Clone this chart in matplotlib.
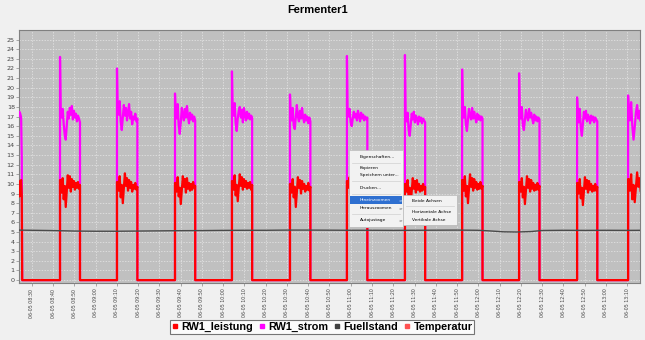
import matplotlib
matplotlib.use("Agg")
import matplotlib.pyplot as plt
from matplotlib.patches import Rectangle
from matplotlib.lines import Line2D
import numpy as np

# x axis in minutes after the first tick label
tick_labels = ["06-05 08:30", "06-05 08:40", "06-05 08:50", "06-05 09:00", "06-05 09:10",
               "06-05 09:20", "06-05 09:30", "06-05 09:40", "06-05 09:50", "06-05 10:00",
               "06-05 10:10", "06-05 10:20", "06-05 10:30", "06-05 10:40", "06-05 10:50",
               "06-05 11:00", "06-05 11:10", "06-05 11:20", "06-05 11:30", "06-05 11:40",
               "06-05 11:50", "06-05 12:00", "06-05 12:10", "06-05 12:20", "06-05 12:30",
               "06-05 12:40", "06-05 12:50", "06-05 13:00", "06-05 13:10"]

# pump cycles: switch on / switch off (minutes) and the start spike of the current
pulse_on = [13.2, 40.0, 67.3, 94.1, 121.4, 148.2, 175.5, 202.4, 229.2, 256.5, 280.5]
pulse_off = [22.6, 49.6, 76.8, 103.6, 131.0, 157.8, 185.0, 212.0, 238.8, 266.0, 287.0]
spike = [23.2, 22.0, 19.4, 21.7, 19.3, 23.3, 23.4, 21.9, 21.5, 19.0, 19.2]

# partial cycle at the left edge
first_t = [-6.3, -5.9, -5.5, -5.1, -4.8]
first_strom = [17.0, 17.5, 17.3, 16.9, 12.7]
first_leistung = [10.3, 8.7, 10.1, 10.4, 8.8]

strom_on = [
    [17.6, 16.9, 17.8, 16.2, 15.1, 14.6, 16.0, 17.5, 16.8, 17.9, 17.2, 18.1, 16.7, 17.6, 16.9, 17.3, 16.5, 17.1, 16.8, 16.4],
    [17.8, 17.2, 18.6, 16.5, 15.6, 16.9, 18.2, 17.1, 17.9, 16.6, 17.4, 18.3, 16.8, 17.5, 16.2, 17.0, 16.7, 17.3, 16.5, 16.8],
    [17.5, 16.8, 18.3, 16.1, 15.2, 16.4, 17.9, 17.2, 16.6, 17.8, 16.9, 18.1, 17.0, 16.3, 17.4, 16.7, 17.2, 16.5, 17.0, 16.6],
    [17.9, 17.1, 18.4, 16.3, 15.5, 16.8, 17.6, 18.0, 16.9, 17.7, 16.4, 17.9, 17.2, 16.6, 17.5, 16.8, 17.3, 16.7, 17.1, 16.9],
    [17.4, 16.6, 17.9, 16.0, 15.7, 16.9, 18.2, 17.0, 16.5, 17.6, 16.8, 17.9, 16.9, 16.4, 17.2, 16.6, 17.0, 16.3, 16.9, 16.5],
    [17.6, 17.0, 17.8, 16.4, 16.0, 16.8, 17.5, 16.9, 17.3, 16.6, 17.6, 17.1, 16.5, 17.4, 16.8, 17.2, 16.6, 17.0, 16.7, 16.9],
    [17.2, 16.5, 17.4, 15.6, 15.0, 16.2, 17.3, 16.7, 17.5, 16.4, 17.1, 16.8, 16.2, 17.0, 16.5, 16.9, 16.3, 16.8, 16.6, 16.4],
    [17.7, 16.9, 18.0, 16.2, 15.5, 16.6, 17.8, 17.1, 16.7, 17.9, 16.8, 17.5, 16.9, 16.4, 17.3, 16.7, 17.1, 16.6, 17.0, 16.8],
    [17.5, 16.8, 18.0, 16.1, 15.6, 16.7, 17.7, 17.0, 16.6, 17.8, 16.9, 17.4, 16.8, 16.3, 17.2, 16.6, 17.0, 16.5, 16.9, 16.7],
    [17.3, 16.4, 17.8, 15.8, 15.0, 16.3, 17.5, 16.8, 17.6, 16.5, 17.2, 16.9, 16.3, 17.1, 16.6, 17.0, 16.4, 16.9, 16.7, 16.5],
    [17.8, 16.6, 18.5, 16.0, 14.6, 15.9, 17.4, 18.2, 16.8, 17.6, 16.5, 17.9],
]

leistung_on = [
    [10.4, 9.1, 10.6, 8.4, 9.8, 7.6, 9.3, 10.9, 9.6, 10.8, 9.2, 10.5, 9.7, 10.3, 9.4, 10.1, 9.6, 10.2, 9.5, 9.9],
    [10.2, 9.3, 10.8, 8.6, 9.9, 8.0, 9.5, 11.1, 9.8, 10.6, 9.3, 10.4, 9.6, 10.2, 9.2, 9.9, 9.5, 10.1, 9.4, 9.7],
    [10.1, 9.2, 10.7, 8.7, 9.6, 7.9, 9.4, 10.8, 9.7, 10.5, 9.1, 10.6, 9.5, 10.1, 9.3, 10.0, 9.4, 10.2, 9.6, 9.8],
    [10.3, 9.4, 10.9, 8.8, 9.9, 8.2, 9.6, 11.0, 9.8, 10.7, 9.4, 10.5, 9.7, 10.3, 9.5, 10.1, 9.6, 10.2, 9.4, 9.9],
    [10.0, 9.1, 10.5, 8.6, 9.7, 7.6, 9.2, 10.7, 9.6, 10.4, 9.0, 10.3, 9.5, 10.0, 9.2, 9.8, 9.4, 10.1, 9.3, 9.7],
    [10.3, 9.6, 10.7, 8.9, 10.0, 8.5, 9.7, 10.9, 9.9, 10.6, 9.5, 10.7, 9.8, 10.4, 9.6, 10.2, 9.7, 10.3, 9.6, 10.0],
    [10.0, 9.2, 10.4, 8.4, 9.6, 7.8, 9.3, 10.6, 9.5, 10.3, 9.1, 10.4, 9.4, 10.0, 9.2, 9.8, 9.3, 10.0, 9.4, 9.7],
    [10.4, 9.3, 10.8, 8.7, 9.8, 8.0, 9.5, 11.0, 9.7, 10.6, 9.3, 10.5, 9.6, 10.2, 9.4, 10.0, 9.5, 10.2, 9.5, 9.8],
    [10.2, 9.2, 10.6, 8.6, 9.7, 7.9, 9.4, 10.8, 9.6, 10.5, 9.2, 10.4, 9.5, 10.1, 9.3, 9.9, 9.4, 10.1, 9.4, 9.8],
    [10.1, 9.0, 10.5, 8.5, 9.6, 7.8, 9.3, 10.7, 9.5, 10.4, 9.1, 10.3, 9.4, 10.0, 9.2, 9.8, 9.3, 10.0, 9.3, 9.7],
    [10.5, 9.3, 11.0, 8.4, 9.9, 8.1, 9.6, 11.2, 9.7, 10.6, 9.2, 10.4],
]

fuell_t = [-6.5, 0, 10, 20, 30, 40, 50, 60, 70, 80, 90, 100, 110, 120, 130, 140, 150,
           160, 170, 180, 190, 200, 210, 215, 222, 228, 235, 240, 250, 260, 270, 280, 287]
fuellstand = [5.20, 5.18, 5.15, 5.10, 5.08, 5.08, 5.10, 5.12, 5.14, 5.15, 5.17, 5.18, 5.18,
              5.20, 5.20, 5.19, 5.18, 5.18, 5.17, 5.18, 5.19, 5.20, 5.18, 5.12, 5.02, 5.00,
              5.05, 5.16, 5.18, 5.17, 5.18, 5.17, 5.18]

temperatur_t = []
temperatur = []

# assemble the step-like series
t_s, v_s, v_l = list(first_t), list(first_strom), list(first_leistung)
t_s.append(-4.6); v_s.append(0); v_l.append(0)
for on, off, sp, s_vals, l_vals in zip(pulse_on, pulse_off, spike, strom_on, leistung_on):
    t_s += [on, on]
    v_s += [0, sp]
    v_l += [0, l_vals[0]]
    ts = np.linspace(on + 0.3, off, len(s_vals))
    t_s += list(ts)
    v_s += s_vals
    v_l += l_vals
    if off < 286:
        t_s.append(off); v_s.append(0); v_l.append(0)

W, H = 645, 340
fig = plt.figure(figsize=(W / 100, H / 100), dpi=100, facecolor="#f0f0f0")
ax = fig.add_axes([19 / W, 1 - 283 / H, 621 / W, 253 / H])
ax.set_facecolor("#c0c0c0")

ax.plot(t_s, v_s, color="#ff00ff", lw=1.6, zorder=3)
ax.plot(t_s, v_l, color="#ff0000", lw=1.6, zorder=4)
ax.plot(fuell_t, fuellstand, color="#4a4a4a", lw=1.0, zorder=5)
ax.plot(temperatur_t, temperatur, color="#ff5050", lw=1.0)

ax.set_xlim(-6.1, 286.1)
ax.set_ylim(-0.3, 26.0)
ax.set_yticks(range(26))
ax.set_xticks(np.arange(len(tick_labels)) * 10)
ax.set_xticklabels(tick_labels, rotation=90, fontsize=3.4, color="#444444")
ax.tick_params(axis="y", labelsize=4.6, labelcolor="#444444", length=2, width=0.5, color="#888888", pad=1)
ax.tick_params(axis="x", length=2, width=0.5, color="#888888", pad=2)
ax.grid(True, color="#e8e8e8", linestyle=(0, (2, 2)), lw=0.5)
ax.set_axisbelow(True)
for sp in ax.spines.values():
    sp.set_color("#808080")
    sp.set_linewidth(0.8)

fig.text(318 / W, 1 - 10 / H, "Fermenter1", ha="center", va="center",
         fontsize=8, fontweight="bold", family="Liberation Sans")

handles = [Line2D([], [], ls="", marker="s", ms=3.5, color=c) for c in
           ["#ff0000", "#ff00ff", "#404040", "#ff5050"]]
leg = fig.legend(handles, ["RW1_leistung", "RW1_strom", "Fuellstand", "Temperatur"],
                 loc="center", bbox_to_anchor=(322 / W, 1 - 327 / H), ncol=4,
                 prop={"family": "Liberation Sans", "weight": "bold", "size": 7.8},
                 frameon=True, fancybox=False, edgecolor="#555555", handlelength=0.6,
                 handletextpad=0.3, columnspacing=0.5, borderpad=0.15, borderaxespad=0)
leg.get_frame().set_linewidth(0.8)


# context menu overlay (pixel coordinates from the top left)
def box(x0, y0, x1, y1, **kw):
    fig.add_artist(Rectangle((x0 / W, 1 - y1 / H), (x1 - x0) / W, (y1 - y0) / H,
                             transform=fig.transFigure, **kw))


def label(x, y, s, **kw):
    fig.text(x / W, 1 - y / H, s, fontsize=3.2, va="center", zorder=10, **kw)


def sep(x0, x1, y):
    fig.add_artist(Line2D([x0 / W, x1 / W], [1 - y / H, 1 - y / H], color="#d0d0d0",
                          lw=0.5, transform=fig.transFigure, zorder=9))


box(350, 151, 404, 228, facecolor="#a0a0a0", edgecolor="none", zorder=8)
box(349, 150, 403, 227, facecolor="#f2f2f2", edgecolor="#bdbdbd", lw=0.5, zorder=8)
box(350, 196, 402, 204, facecolor="#2e6fd0", edgecolor="none", zorder=9)
label(360, 157, "Eigenschaften...")
sep(352, 400, 163)
label(360, 168.5, "Kopieren")
label(360, 175, "Speichern unter...")
sep(352, 400, 181)
label(360, 188, "Drucken...")
sep(352, 400, 194)
label(360, 200, "Hineinzoomen", color="white")
label(360, 208, "Herauszoomen")
sep(352, 400, 214)
label(360, 220, "Autojustage")
for yy, cc in [(200, "white"), (208, "#333333"), (220, "#333333")]:
    label(398, yy, ">", color=cc)

box(404, 196, 458, 226, facecolor="#a0a0a0", edgecolor="none", zorder=8)
box(403, 195, 457, 225, facecolor="#f2f2f2", edgecolor="#bdbdbd", lw=0.5, zorder=8)
label(412, 200.5, "Beide Achsen")
sep(406, 454, 206)
label(412, 212, "Horizontale Achse")
label(412, 220, "Vertikale Achse")

fig.savefig("out.png", dpi=100, facecolor=fig.get_facecolor())
